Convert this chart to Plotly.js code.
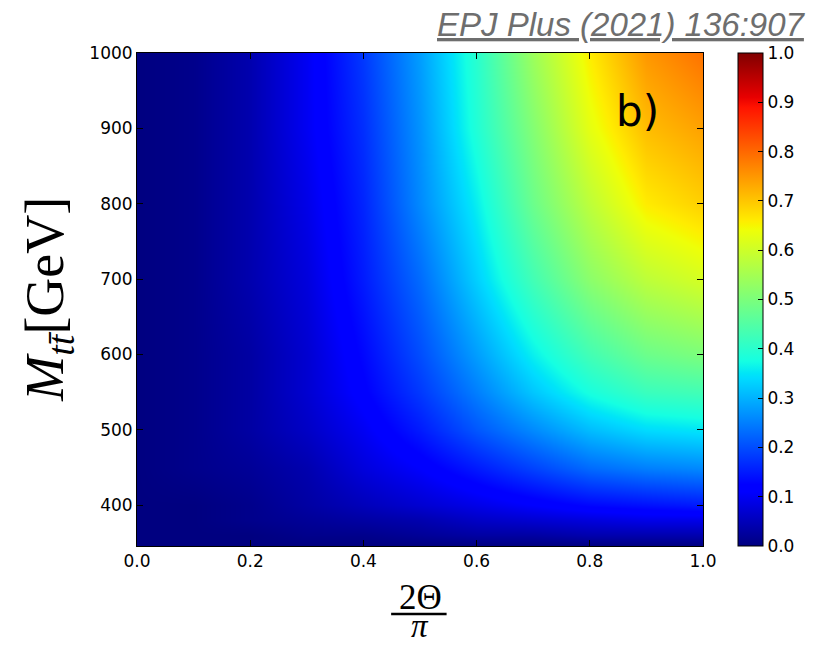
<!DOCTYPE html>
<html>
<head>
<meta charset="utf-8">
<script src="https://cdn.plot.ly/plotly-3.0.1.min.js"></script>
<style>
  html, body { margin: 0; padding: 0; background: #ffffff; }
  #chart { width: 813px; height: 646px; }
</style>
</head>
<body>
<div id="chart"></div>
<script>
// Mixing angle axis: 2Θ/π
const thetaFrac = [0.0, 0.1, 0.2, 0.3, 0.4, 0.5, 0.6, 0.7, 0.8, 0.9, 1.0];

// Invariant mass of the top pair [GeV]
const massGeV = [346, 360, 380, 400, 450, 500, 550, 600, 700, 800, 900, 1000];

// Value at each (mass, angle) node; one row per entry of massGeV
const z346  = [0, 0, 0, 0, 0, 0, 0, 0, 0, 0, 0];
const z360  = [0, 0, 0, 0.01, 0.01, 0.02, 0.03, 0.03, 0.04, 0.04, 0.04];
const z380  = [0, 0, 0.01, 0.02, 0.03, 0.04, 0.06, 0.07, 0.08, 0.09, 0.09];
const z400  = [0, 0, 0.01, 0.03, 0.05, 0.07, 0.09, 0.11, 0.13, 0.14, 0.15];
const z450  = [0, 0.01, 0.02, 0.04, 0.08, 0.11, 0.15, 0.19, 0.23, 0.25, 0.26];
const z500  = [0, 0.01, 0.03, 0.06, 0.10, 0.15, 0.21, 0.26, 0.31, 0.34, 0.35];
const z550  = [0, 0.01, 0.03, 0.07, 0.12, 0.18, 0.25, 0.32, 0.38, 0.42, 0.43];
const z600  = [0, 0.01, 0.03, 0.07, 0.13, 0.20, 0.28, 0.36, 0.43, 0.48, 0.50];
const z700  = [0, 0.01, 0.04, 0.08, 0.15, 0.23, 0.33, 0.43, 0.52, 0.58, 0.61];
const z800  = [0, 0.01, 0.04, 0.09, 0.16, 0.26, 0.36, 0.48, 0.58, 0.66, 0.69];
const z900  = [0, 0.01, 0.04, 0.10, 0.17, 0.27, 0.39, 0.51, 0.63, 0.71, 0.74];
const z1000 = [0, 0.01, 0.04, 0.10, 0.18, 0.28, 0.40, 0.54, 0.66, 0.75, 0.79];

const yTicks = [400, 500, 600, 700, 800, 900, 1000];
const cbTicks = [0.0, 0.1, 0.2, 0.3, 0.4, 0.5, 0.6, 0.7, 0.8, 0.9, 1.0];

const zGrid = [z346, z360, z380, z400, z450, z500, z550, z600, z700, z800, z900, z1000];

// matplotlib-style "jet" colour map
const jet = [
  [0.000, 'rgb(0,0,128)'],
  [0.110, 'rgb(0,0,255)'],
  [0.125, 'rgb(0,0,255)'],
  [0.340, 'rgb(0,219,255)'],
  [0.350, 'rgb(0,229,247)'],
  [0.375, 'rgb(21,255,226)'],
  [0.640, 'rgb(238,255,8)'],
  [0.650, 'rgb(247,246,0)'],
  [0.660, 'rgb(255,236,0)'],
  [0.890, 'rgb(255,19,0)'],
  [0.910, 'rgb(232,0,0)'],
  [1.000, 'rgb(128,0,0)']
];

const tickFont = { family: 'DejaVu Sans, sans-serif', size: 17, color: '#000' };
const serif = 'Liberation Serif, Times New Roman, serif';

const trace = {
  type: 'heatmap',
  x: thetaFrac,
  y: massGeV,
  z: zGrid,
  zmin: 0,
  zmax: 1,
  zsmooth: 'best',
  colorscale: jet,
  hoverinfo: 'skip',
  colorbar: {
    x: 1.062, xanchor: 'left', xpad: 0,
    y: 0.5, yanchor: 'middle', ypad: 0,
    len: 1, lenmode: 'fraction',
    thickness: 25, thicknessmode: 'pixels',
    outlinewidth: 1, outlinecolor: '#000',
    tickmode: 'array', tickvals: cbTicks,
    ticktext: cbTicks.map(v => v.toFixed(1)),
    ticks: 'inside', ticklen: 5, tickcolor: '#000',
    tickfont: tickFont
  }
};

const layout = {
  width: 813,
  height: 646,
  margin: { l: 137, r: 110, t: 53, b: 100, pad: 0 },
  paper_bgcolor: '#ffffff',
  plot_bgcolor: '#ffffff',
  showlegend: false,
  xaxis: {
    range: [0, 1],
    tickmode: 'array',
    tickvals: [0, 0.2, 0.4, 0.6, 0.8, 1.0],
    ticktext: ['0.0', '0.2', '0.4', '0.6', '0.8', '1.0'],
    ticks: 'inside', ticklen: 6, tickcolor: '#000',
    showline: true, linecolor: '#000', linewidth: 1, mirror: 'ticks',
    showgrid: false, zeroline: false,
    tickfont: tickFont
  },
  yaxis: {
    range: [346, 1000],
    tickmode: 'array',
    tickvals: yTicks,
    ticktext: yTicks.map(String),
    ticks: 'inside', ticklen: 6, tickcolor: '#000',
    showline: true, linecolor: '#000', linewidth: 1, mirror: 'ticks',
    showgrid: false, zeroline: false,
    tickfont: tickFont
  },
  shapes: [
    // fraction bar of the x-axis label
    { type: 'line', xref: 'paper', yref: 'paper',
      x0: 0.449, x1: 0.547, y0: -0.138, y1: -0.138,
      line: { color: '#000', width: 2.5 } }
  ],
  annotations: [
    { text: '<u>EPJ Plus (2021) 136:907</u>', xref: 'paper', yref: 'paper',
      x: 1.1855, y: 1.058, xanchor: 'right', yanchor: 'middle', showarrow: false,
      font: { family: 'Liberation Sans, Arial, sans-serif', size: 33, color: '#6e6e6e', style: 'italic' } },
    { text: 'b)', xref: 'paper', yref: 'paper',
      x: 0.885, y: 0.882, xanchor: 'center', yanchor: 'middle', showarrow: false,
      font: { family: 'DejaVu Sans, sans-serif', size: 42, color: '#000' } },
    { text: '<i>M</i><sub><i>t</i><i>t\u0304</i></sub>[GeV]', xref: 'paper', yref: 'paper',
      x: -0.157, y: 0.5, xanchor: 'center', yanchor: 'middle', textangle: -90, showarrow: false,
      font: { family: serif, size: 54, color: '#000' } },
    { text: '2\u0398', xref: 'paper', yref: 'paper',
      x: 0.5, y: -0.104, xanchor: 'center', yanchor: 'middle', showarrow: false,
      font: { family: serif, size: 35, color: '#000' } },
    { text: '<i>\u03C0</i>', xref: 'paper', yref: 'paper',
      x: 0.5, y: -0.162, xanchor: 'center', yanchor: 'middle', showarrow: false,
      font: { family: serif, size: 33, color: '#000' } }
  ]
};

Plotly.newPlot('chart', [trace], layout, { staticPlot: true, displayModeBar: false });
</script>
</body>
</html>
